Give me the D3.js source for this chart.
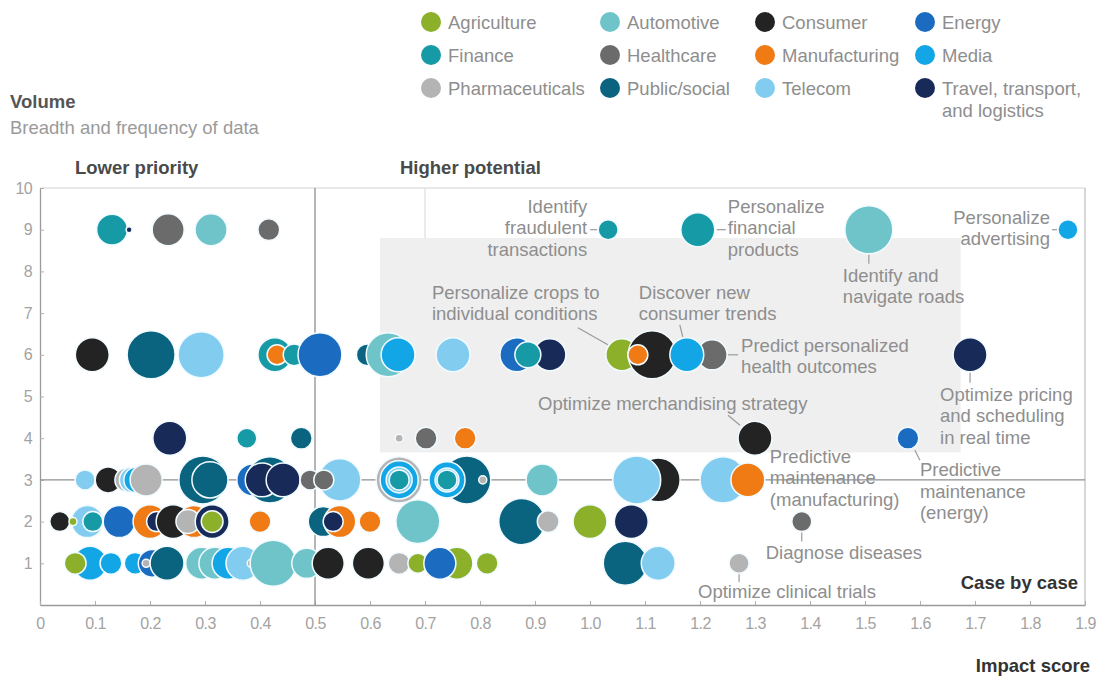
<!DOCTYPE html>
<html>
<head>
<meta charset="utf-8">
<script src="https://cdn.jsdelivr.net/npm/d3@7"></script>
<style>
  html, body { margin: 0; padding: 0; background: #fff; }
  svg { display: block; font-family: "Liberation Sans", Arial, Helvetica, sans-serif; }
</style>
</head>
<body>
<svg id="chart" width="1097" height="686"></svg>
<script>
// Sectors and their colours
const sectors = ["Agriculture", "Automotive", "Consumer", "Energy",
  "Finance", "Healthcare", "Manufacturing", "Media",
  "Pharmaceuticals", "Public/social", "Telecom", "Travel, transport, and logistics"];
const sectorColors = ["#8cb02a", "#6fc4c9", "#232323", "#1b6cc0",
  "#169aa6", "#6b6b6b", "#f07a14", "#13a6e6",
  "#b4b4b4", "#0a6480", "#82cdef", "#182a58"];

// Axis ticks
const xTickValues = d3.range(0, 20).map(i => i / 10);
const xTickLabels = ["0", "0.1", "0.2", "0.3", "0.4", "0.5", "0.6", "0.7", "0.8", "0.9",
  "1.0", "1.1", "1.2", "1.3", "1.4", "1.5", "1.6", "1.7", "1.8", "1.9"];
const yTickValues = [1, 2, 3, 4, 5, 6, 7, 8, 9, 10];

// Use cases by volume score: [impact score, size, sector]
const cases9 = [
  [0.131, 38, "Finance"], [0.162, 1.4, "Travel, transport, and logistics"],
  [0.233, 41, "Healthcare"], [0.311, 41, "Automotive"], [0.416, 19, "Healthcare"],
  [1.033, 16, "Finance"], [1.196, 46, "Finance"], [1.507, 92, "Automotive"], [1.869, 16, "Media"]
];
const cases6 = [
  [0.095, 46, "Consumer"], [0.202, 92, "Public/social"], [0.293, 85, "Telecom"],
  [0.427, 46, "Finance"], [0.431, 16, "Manufacturing"], [0.462, 19, "Finance"],
  [0.509, 77, "Energy"], [0.595, 19, "Public/social"], [0.633, 77, "Automotive"],
  [0.651, 46, "Media"], [0.751, 46, "Telecom"], [0.867, 46, "Energy"],
  [0.927, 41, "Travel, transport, and logistics"], [0.887, 27, "Finance"],
  [1.058, 41, "Agriculture"], [1.113, 92, "Consumer"], [1.087, 16, "Manufacturing"],
  [1.222, 36, "Healthcare"], [1.176, 46, "Media"], [1.691, 46, "Travel, transport, and logistics"]
];
const cases4 = [
  [0.236, 46, "Travel, transport, and logistics"], [0.376, 16, "Finance"], [0.475, 19, "Public/social"],
  [0.653, 2.6, "Pharmaceuticals"], [0.702, 19, "Healthcare"], [0.773, 19, "Manufacturing"],
  [1.300, 46, "Consumer"], [1.578, 19, "Energy"]
];
const cases3 = [
  [0.082, 16, "Telecom"], [0.124, 27, "Consumer"], [0.158, 23, "Pharmaceuticals"],
  [0.168, 27, "Telecom"], [0.176, 27, "Media"], [0.193, 41, "Pharmaceuticals"],
  [0.296, 92, "Public/social"], [0.309, 52, "Public/social"],
  [0.387, 41, "Energy"], [0.418, 85, "Public/social"],
  [0.404, 46, "Travel, transport, and logistics"], [0.442, 46, "Travel, transport, and logistics"],
  [0.545, 71, "Telecom"], [0.491, 16, "Healthcare"], [0.516, 16, "Healthcare"],
  [0.653, 85, "Pharmaceuticals"], [0.653, 58, "Media"], [0.653, 27, "Telecom"], [0.653, 16, "Finance"],
  [0.776, 92, "Public/social"], [0.740, 52, "Media"], [0.740, 23, "Telecom"], [0.740, 16, "Finance"],
  [0.805, 2.6, "Pharmaceuticals"], [0.913, 41, "Automotive"],
  [1.124, 77, "Consumer"], [1.085, 92, "Telecom"],
  [1.242, 85, "Telecom"], [1.287, 46, "Manufacturing"]
];
const cases2 = [
  [0.036, 16, "Consumer"], [0.086, 41, "Telecom"], [0.060, 2.6, "Agriculture"], [0.096, 16, "Finance"],
  [0.144, 41, "Energy"], [0.200, 46, "Manufacturing"], [0.212, 16, "Travel, transport, and logistics"],
  [0.242, 46, "Consumer"], [0.280, 41, "Manufacturing"], [0.269, 23, "Pharmaceuticals"],
  [0.313, 46, "Travel, transport, and logistics"], [0.313, 19, "Agriculture"],
  [0.400, 19, "Manufacturing"], [0.515, 36, "Public/social"], [0.545, 41, "Manufacturing"],
  [0.533, 16, "Travel, transport, and logistics"], [0.600, 19, "Manufacturing"],
  [0.687, 77, "Automotive"], [0.876, 85, "Public/social"], [0.924, 19, "Pharmaceuticals"],
  [1.000, 46, "Agriculture"], [1.075, 46, "Travel, transport, and logistics"], [1.385, 16, "Healthcare"]
];
const cases1 = [
  [0.091, 46, "Media"], [0.064, 19, "Agriculture"], [0.129, 19, "Media"], [0.173, 19, "Media"],
  [0.204, 31, "Energy"], [0.193, 2.6, "Pharmaceuticals"], [0.231, 46, "Public/social"],
  [0.294, 41, "Automotive"], [0.318, 41, "Automotive"], [0.342, 41, "Media"],
  [0.369, 46, "Telecom"], [0.384, 2.6, "Pharmaceuticals"], [0.424, 85, "Automotive"],
  [0.485, 36, "Automotive"], [0.524, 41, "Consumer"], [0.597, 41, "Consumer"],
  [0.653, 19, "Pharmaceuticals"], [0.687, 16, "Agriculture"], [0.758, 41, "Agriculture"],
  [0.727, 41, "Energy"], [0.813, 19, "Agriculture"],
  [1.064, 77, "Public/social"], [1.124, 46, "Telecom"], [1.271, 16, "Pharmaceuticals"]
];

// Callouts, anchored to the use case they describe
const callouts = [
  { lines: ["Identify", "fraudulent", "transactions"], at: [1.033, 9], dx: -21, dy: -17, anchor: "end", leader: [[-18, 0], [-11, 0]] },
  { lines: ["Personalize", "financial", "products"], at: [1.196, 9], dx: 30, dy: -17, anchor: "start", leader: [[19, 0], [28, 0]] },
  { lines: ["Identify and", "navigate roads"], at: [1.507, 9], dx: -26, dy: 52, anchor: "start", leader: [[0, 25], [0, 34]] },
  { lines: ["Personalize", "advertising"], at: [1.869, 9], dx: -18, dy: -6, anchor: "end", leader: [[-16, 0], [-11, 0]] },
  { lines: ["Personalize crops to", "individual conditions"], at: [1.058, 6], dx: -190, dy: -56, anchor: "start", leader: [[-44, -27], [-14, -10]] },
  { lines: ["Discover new", "consumer trends"], at: [1.176, 6], dx: -48, dy: -56, anchor: "start", leader: [[-7, -30], [-4, -18]] },
  { lines: ["Predict personalized", "health outcomes"], at: [1.222, 6], dx: 29, dy: -3, anchor: "start", leader: [[16, 0], [26, 0]] },
  { lines: ["Optimize merchandising strategy"], at: [1.300, 4], dx: -217, dy: -28, anchor: "start", leader: [[-27, -23], [-15, -13]] },
  { lines: ["Optimize pricing", "and scheduling", "in real time"], at: [1.691, 6], dx: -30, dy: 46, anchor: "start", leader: [[0, 18], [0, 28]] },
  { lines: ["Predictive", "maintenance", "(manufacturing)"], at: [1.287, 3], dx: 22, dy: -17, anchor: "start", leader: null },
  { lines: ["Predictive", "maintenance", "(energy)"], at: [1.578, 4], dx: 12, dy: 38, anchor: "start", leader: [[7, 12], [12, 22]] },
  { lines: ["Diagnose diseases"], at: [1.385, 2], dx: -36, dy: 37, anchor: "start", leader: [[0, 11], [0, 20]] },
  { lines: ["Optimize clinical trials"], at: [1.271, 1], dx: -41, dy: 35, anchor: "start", leader: [[0, 11], [0, 19]] }
];

const svg = d3.select("#chart");
const x = d3.scaleLinear().domain([0, 1.9]).range([40, 1085]);
const y = d3.scaleLinear().domain([0, 10]).range([605, 188]);
const r = d3.scaleSqrt().domain([0, 100]).range([0, 25]);
const color = d3.scaleOrdinal().domain(sectors).range(sectorColors);

const textGray = "#8e8e8e";
const fontSize = 18.5;

// Shaded band of the higher-potential quadrant
svg.append("rect")
  .attr("x", x(0.618)).attr("y", y(8.8))
  .attr("width", x(1.674) - x(0.618)).attr("height", y(3.66) - y(8.8))
  .attr("fill", "#efefef");

// Frame
svg.append("line").attr("x1", x(0)).attr("x2", x(1.9)).attr("y1", y(10)).attr("y2", y(10))
  .attr("stroke", "#d4d4d4").attr("stroke-width", 1.2);
svg.append("line").attr("x1", x(1.9)).attr("x2", x(1.9)).attr("y1", y(10)).attr("y2", y(0))
  .attr("stroke", "#bdbdbd").attr("stroke-width", 1.2);
svg.append("line").attr("x1", x(0.7)).attr("x2", x(0.7)).attr("y1", y(10)).attr("y2", y(8.8))
  .attr("stroke", "#dedede").attr("stroke-width", 1.2);

// Axes
const yAxis = d3.axisLeft(y).tickValues(yTickValues).tickSizeInner(-4).tickSizeOuter(0).tickPadding(8);
const gy = svg.append("g").attr("transform", `translate(${x(0)},0)`).call(yAxis);
const xAxis = d3.axisBottom(x).tickValues(xTickValues).tickFormat((d, i) => xTickLabels[i])
  .tickSizeInner(-4).tickSizeOuter(0).tickPadding(13);
const gx = svg.append("g").attr("transform", `translate(0,${y(0)})`).call(xAxis);
[gx, gy].forEach(g => {
  g.select(".domain").attr("stroke", "#9a9a9a").attr("stroke-width", 1.3);
  g.selectAll(".tick line").attr("stroke", "#b0b0b0");
  g.selectAll(".tick text").attr("fill", "#a3a3a3").attr("font-size", 16)
    .attr("font-family", "\"Liberation Sans\", Arial, sans-serif").attr("letter-spacing", -0.6);
});

// Quadrant dividers
svg.append("line").attr("x1", x(0.5)).attr("x2", x(0.5)).attr("y1", y(10)).attr("y2", y(0))
  .attr("stroke", "#8f8f8f").attr("stroke-width", 1.3);
svg.append("line").attr("x1", x(0)).attr("x2", x(1.9)).attr("y1", y(3)).attr("y2", y(3))
  .attr("stroke", "#8f8f8f").attr("stroke-width", 1.3);

// Bubbles
const rows = [[9, cases9], [6, cases6], [4, cases4], [3, cases3], [2, cases2], [1, cases1]];
const bubbles = rows.flatMap(([vol, list]) =>
  list.map(([impact, size, sector]) => ({ impact, volume: vol, size, sector })));
svg.append("g").selectAll("circle").data(bubbles).join("circle")
  .attr("cx", d => x(d.impact))
  .attr("cy", d => y(d.volume))
  .attr("r", d => r(d.size))
  .attr("fill", d => color(d.sector))
  .attr("stroke", "#f2fbff")
  .attr("stroke-width", 1.5);

// Callouts
const lineH = 21.5;
const cg = svg.append("g");
callouts.forEach(c => {
  const px = x(c.at[0]), py = y(c.at[1]);
  if (c.leader) {
    cg.append("line")
      .attr("x1", px + c.leader[0][0]).attr("y1", py + c.leader[0][1])
      .attr("x2", px + c.leader[1][0]).attr("y2", py + c.leader[1][1])
      .attr("stroke", "#9a9a9a").attr("stroke-width", 1.2);
  }
  const t = cg.append("text")
    .attr("x", px + c.dx).attr("y", py + c.dy)
    .attr("text-anchor", c.anchor)
    .attr("fill", textGray).attr("font-size", fontSize);
  c.lines.forEach((ln, i) => {
    t.append("tspan").attr("x", px + c.dx).attr("dy", i === 0 ? 0 : lineH).text(ln);
  });
});

// Quadrant and axis titles
const bold = (txt, tx, ty, anchor, fill) => svg.append("text")
  .attr("x", tx).attr("y", ty).attr("text-anchor", anchor || "start")
  .attr("font-weight", "bold").attr("font-size", 18.5).attr("fill", fill || "#4a4a4a").text(txt);
bold("Volume", 10, 108, "start", "#555");
svg.append("text").attr("x", 10).attr("y", 134).attr("fill", "#9a9a9a")
  .attr("font-size", fontSize).text("Breadth and frequency of data");
bold("Lower priority", 75, 174);
bold("Higher potential", 400, 174);
bold("Case by case", 1078, 589, "end", "#333");
bold("Impact score", 1090, 672, "end", "#333");

// Legend
const colX = [431, 610, 765, 925];
const rowY = [22, 55, 88];
const lg = svg.append("g");
sectors.forEach((s, i) => {
  const cx = colX[i % 4], cy = rowY[Math.floor(i / 4)];
  lg.append("circle").attr("cx", cx).attr("cy", cy).attr("r", 10).attr("fill", sectorColors[i]);
  const parts = s.includes(", and ") ? [s.split(", and ")[0] + ",", "and " + s.split(", and ")[1]] : [s];
  const t = lg.append("text").attr("x", cx + 17).attr("y", cy + 6.5)
    .attr("fill", textGray).attr("font-size", fontSize);
  parts.forEach((p, j) => t.append("tspan").attr("x", cx + 17).attr("dy", j === 0 ? 0 : 22).text(p));
});
</script>
</body>
</html>
